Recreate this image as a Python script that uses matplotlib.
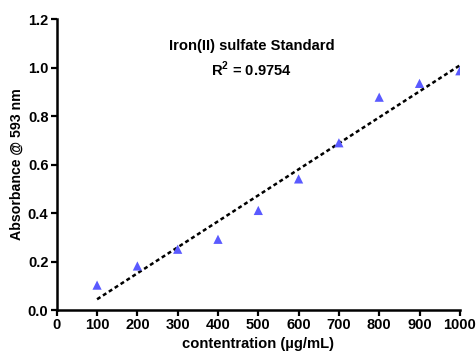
import matplotlib
matplotlib.use('Agg')
import matplotlib.pyplot as plt
import numpy as np

plt.rcParams['font.family'] = ['Liberation Sans', 'DejaVu Sans']
plt.rcParams['font.weight'] = 'bold'
plt.rcParams['mathtext.fontset'] = 'custom'
plt.rcParams['mathtext.bf'] = 'Liberation Sans:bold'

# datos
concentration = [100, 200, 300, 400, 500, 600, 700, 800, 900, 1000]
absorbance = [0.103, 0.182, 0.251, 0.292, 0.411, 0.541, 0.690, 0.878, 0.935, 0.987]
x_ticks = [0, 100, 200, 300, 400, 500, 600, 700, 800, 900, 1000]
y_ticks = [0.0, 0.2, 0.4, 0.6, 0.8, 1.0, 1.2]

# ajuste lineal
slope, intercept = np.polyfit(concentration, absorbance, 1)
fit_x = np.array([concentration[0], concentration[-1]])
fit_y = slope * fit_x + intercept

fig = plt.figure(figsize=(4.77, 3.54), dpi=100)
ax = fig.add_axes([0.119, 0.124, 0.845, 0.822])

ax.plot(fit_x, fit_y, color='black', linestyle=(0, (1.6, 1.2)), linewidth=1.8, zorder=2)
ax.scatter(concentration, absorbance, marker='^', s=44, color='#5a5aff', edgecolors='none', zorder=3)

ax.set_xlim(0, 1000)
ax.set_ylim(0, 1.2)
ax.set_xticks(x_ticks)
ax.set_yticks(y_ticks)
ax.set_yticklabels([f'{v:.1f}' for v in y_ticks])
ax.tick_params(axis='both', direction='out', width=1.6, length=4, labelsize=10.5, pad=2)

for s in ['top', 'right']:
    ax.spines[s].set_visible(False)
for s in ['left', 'bottom']:
    ax.spines[s].set_linewidth(1.8)

ax.set_xlabel('contentration (µg/mL)', fontsize=10.6, fontweight='bold', labelpad=3)
ax.set_ylabel('Absorbance @ 593 nm', fontsize=10.2, fontweight='bold', labelpad=3)

ax.text(0.484, 0.906, 'Iron(II) sulfate Standard', transform=ax.transAxes,
        ha='center', va='center', fontsize=10.6, fontweight='bold')
ax.text(0.484, 0.828, r'R$^\mathbf{2}$ = 0.9754', transform=ax.transAxes,
        ha='center', va='center', fontsize=10.6, fontweight='bold')

fig.savefig('out.png', dpi=100)
